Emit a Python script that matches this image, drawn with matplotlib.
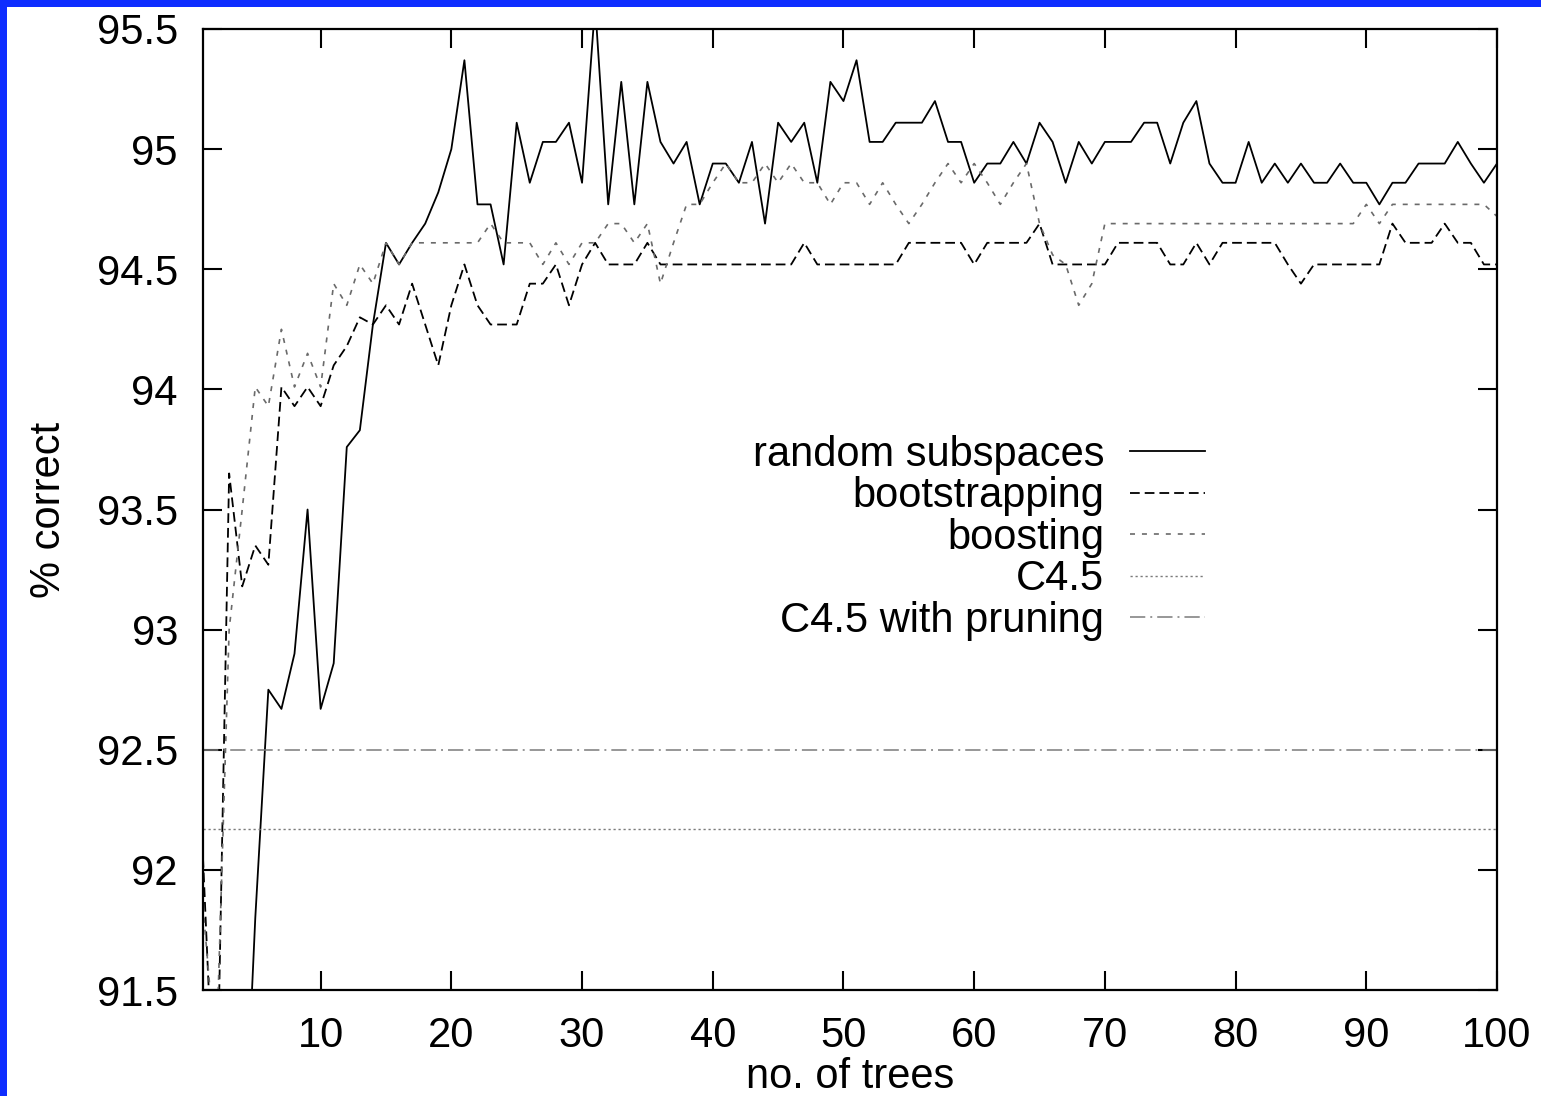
import matplotlib
matplotlib.use('Agg')
import matplotlib.pyplot as plt
from matplotlib.patches import Rectangle
from matplotlib.ticker import FuncFormatter, FixedLocator

# ---------------- data ----------------
trees = list(range(1, 101))

random_subspaces = [
    88.50, 89.50, 90.20, 90.60, 91.80, 92.75, 92.67, 92.90, 93.50, 92.67,
    92.86, 93.76, 93.83, 94.27, 94.61, 94.52, 94.61, 94.69, 94.82, 95.00,
    95.37, 94.77, 94.77, 94.52, 95.11, 94.86, 95.03, 95.03, 95.11, 94.86,
    95.60, 94.77, 95.28, 94.77, 95.28, 95.03, 94.94, 95.03, 94.77, 94.94,
    94.94, 94.86, 95.03, 94.69, 95.11, 95.03, 95.11, 94.86, 95.28, 95.20,
    95.37, 95.03, 95.03, 95.11, 95.11, 95.11, 95.20, 95.03, 95.03, 94.86,
    94.94, 94.94, 95.03, 94.94, 95.11, 95.03, 94.86, 95.03, 94.94, 95.03,
    95.03, 95.03, 95.11, 95.11, 94.94, 95.11, 95.20, 94.94, 94.86, 94.86,
    95.03, 94.86, 94.94, 94.86, 94.94, 94.86, 94.86, 94.94, 94.86, 94.86,
    94.77, 94.86, 94.86, 94.94, 94.94, 94.94, 95.03, 94.94, 94.86, 94.94,
]

bootstrapping = [
    92.05, 90.80, 93.65, 93.18, 93.35, 93.27, 94.01, 93.93, 94.01, 93.93,
    94.10, 94.18, 94.30, 94.27, 94.35, 94.27, 94.44, 94.27, 94.10, 94.35,
    94.52, 94.35, 94.27, 94.27, 94.27, 94.44, 94.44, 94.52, 94.35, 94.52,
    94.61, 94.52, 94.52, 94.52, 94.61, 94.52, 94.52, 94.52, 94.52, 94.52,
    94.52, 94.52, 94.52, 94.52, 94.52, 94.52, 94.61, 94.52, 94.52, 94.52,
    94.52, 94.52, 94.52, 94.52, 94.61, 94.61, 94.61, 94.61, 94.61, 94.52,
    94.61, 94.61, 94.61, 94.61, 94.69, 94.52, 94.52, 94.52, 94.52, 94.52,
    94.61, 94.61, 94.61, 94.61, 94.52, 94.52, 94.61, 94.52, 94.61, 94.61,
    94.61, 94.61, 94.61, 94.52, 94.44, 94.52, 94.52, 94.52, 94.52, 94.52,
    94.52, 94.69, 94.61, 94.61, 94.61, 94.69, 94.61, 94.61, 94.52, 94.52,
]

boosting = [
    91.85, 91.20, 93.00, 93.50, 94.01, 93.93, 94.25, 94.01, 94.15, 94.01,
    94.44, 94.35, 94.52, 94.44, 94.61, 94.52, 94.61, 94.61, 94.61, 94.61,
    94.61, 94.61, 94.69, 94.61, 94.61, 94.61, 94.52, 94.61, 94.52, 94.61,
    94.61, 94.69, 94.69, 94.61, 94.69, 94.44, 94.61, 94.77, 94.77, 94.86,
    94.94, 94.86, 94.86, 94.94, 94.86, 94.94, 94.86, 94.86, 94.77, 94.86,
    94.86, 94.77, 94.86, 94.77, 94.69, 94.77, 94.86, 94.94, 94.86, 94.94,
    94.86, 94.77, 94.86, 94.94, 94.69, 94.56, 94.52, 94.35, 94.44, 94.69,
    94.69, 94.69, 94.69, 94.69, 94.69, 94.69, 94.69, 94.69, 94.69, 94.69,
    94.69, 94.69, 94.69, 94.69, 94.69, 94.69, 94.69, 94.69, 94.69, 94.77,
    94.69, 94.77, 94.77, 94.77, 94.77, 94.77, 94.77, 94.77, 94.77, 94.72,
]

c45 = 92.17
c45_pruning = 92.50

x_ticks = [10, 20, 30, 40, 50, 60, 70, 80, 90, 100]
y_ticks = [91.5, 92, 92.5, 93, 93.5, 94, 94.5, 95, 95.5]
labels = ["random subspaces", "bootstrapping", "boosting", "C4.5", "C4.5 with pruning"]

# ---------------- style ----------------
plt.rcParams['font.family'] = ['Liberation Sans', 'DejaVu Sans']
plt.rcParams['lines.scale_dashes'] = False

W, H = 1541, 1096
fig = plt.figure(figsize=(W / 100, H / 100), dpi=100, facecolor='#0e2dff')
fig.patches.append(Rectangle((7 / W, 0), 1, 1 - 7 / H, transform=fig.transFigure,
                             facecolor='white', edgecolor='none', zorder=-10))

ax = fig.add_axes([203 / W, (H - 990) / H, (1497 - 203) / W, (990 - 29) / H])
ax.set_zorder(1)
ax.set_facecolor('white')

ax.plot(trees, random_subspaces, color='black', lw=1.3, label=labels[0])
ax.plot(trees, bootstrapping, color='black', lw=1.3, dashes=(7.0, 3.6), label=labels[1])
ax.plot(trees, boosting, color='#6a6a6a', lw=1.2, dashes=(3.6, 5.0), label=labels[2])
ax.axhline(c45, color='#7a7a7a', lw=1.0, dashes=(1.6, 2.0), label=labels[3])
ax.axhline(c45_pruning, color='#7a7a7a', lw=1.1, dashes=(11.0, 3.6, 1.4, 3.6), label=labels[4])

ax.set_xlim(1, 100)
ax.set_ylim(91.5, 95.5)
ax.xaxis.set_major_locator(FixedLocator(x_ticks))
ax.yaxis.set_major_locator(FixedLocator(y_ticks))
ax.yaxis.set_major_formatter(FuncFormatter(lambda v, p: '%g' % v))
ax.xaxis.set_major_formatter(FuncFormatter(lambda v, p: '%g' % v))

ax.tick_params(axis='both', which='major', direction='in', length=14, width=1.5,
               top=True, right=True, labelsize=30, colors='black')
ax.tick_params(axis='x', pad=19)
ax.tick_params(axis='y', pad=18)
for s in ax.spines.values():
    s.set_linewidth(1.6)
    s.set_color('black')

ax.set_xlabel('no. of trees', fontsize=30)
ax.set_ylabel('% correct', fontsize=30)
ax.xaxis.set_label_coords(0.5, -0.0697)
ax.yaxis.set_label_coords(-0.1036, 0.5)

leg = ax.legend(loc='upper right', bbox_to_anchor=(1205 / W, 1 - 435 / H),
                bbox_transform=fig.transFigure, frameon=False, markerfirst=False,
                handlelength=1.8, handletextpad=0.62, labelspacing=0.035,
                borderpad=0, borderaxespad=0, fontsize=30)

fig.savefig('out.png', dpi=100, facecolor=fig.get_facecolor())
